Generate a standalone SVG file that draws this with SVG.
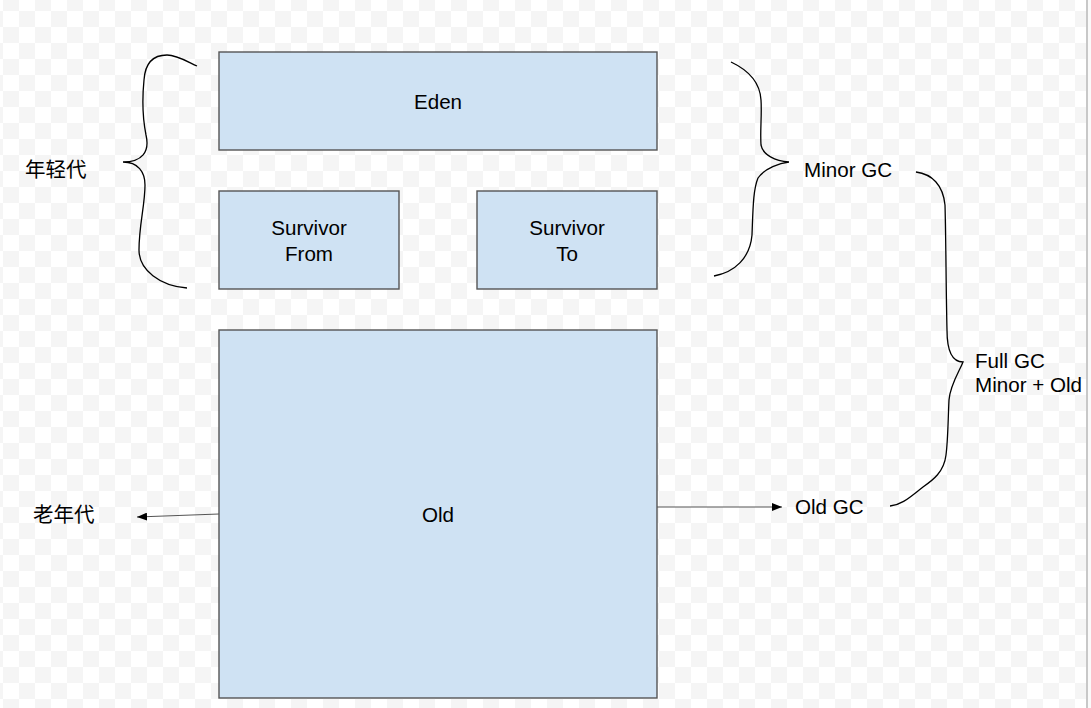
<svg xmlns="http://www.w3.org/2000/svg" width="1091" height="708" viewBox="0 0 1091 708">
<defs>
<pattern id="chk" x="3" y="11" width="32" height="32" patternUnits="userSpaceOnUse">
<rect x="0" y="0" width="32" height="32" fill="#ffffff"/>
<rect x="16" y="0" width="16" height="16" fill="#f5f5f5"/>
<rect x="0" y="16" width="16" height="16" fill="#f5f5f5"/>
</pattern>
<marker id="arr" viewBox="0 0 10 8" refX="10" refY="4" markerWidth="10" markerHeight="8" markerUnits="userSpaceOnUse" orient="auto">
<path d="M0,0 L10,4 L0,8 Z" fill="#000"/>
</marker>
<style>
.box{fill:#cfe2f3;stroke:#555;stroke-width:1.4}
.t{font-family:"Liberation Sans",Arial,sans-serif;font-size:20.6px;fill:#000}
.c{text-anchor:middle}
.cjk{font-family:"Noto Sans CJK SC","Liberation Sans",sans-serif;font-size:20.5px;fill:#000}
.brace{fill:none;stroke:#000;stroke-width:1.3}
.edge{fill:none;stroke:#555;stroke-width:1.2}
</style>
</defs>
<rect width="1091" height="708" fill="url(#chk)"/>
<rect x="1086" y="0" width="2" height="708" fill="#c8c8c8"/>
<rect x="1088" y="0" width="3" height="708" fill="#fafafa"/>

<g id="eden">
<rect class="box" x="219" y="52" width="438" height="98"/>
<text class="t c" x="438" y="109">Eden</text>
</g>
<g id="survivor-from">
<rect class="box" x="219" y="191" width="180" height="98"/>
<text class="t c" x="309" y="235">Survivor</text>
<text class="t c" x="309" y="261">From</text>
</g>
<g id="survivor-to">
<rect class="box" x="477" y="191" width="180" height="98"/>
<text class="t c" x="567" y="235">Survivor</text>
<text class="t c" x="567" y="261">To</text>
</g>
<g id="old">
<rect class="box" x="219" y="330" width="438" height="368"/>
<text class="t c" x="438" y="522">Old</text>
</g>

<g id="young-label">
<path class="brace" d="M197,66 C188,62 177,55 167,55 C152,55 145,65 144,80 C142,100 143,120 146,135 C150,152 142,162 123,162 M123,162 C138,162 145,172 145,185 C145,205 139,225 139,250 C139,270 160,286 187,288"/>
<text class="cjk" x="25" y="177">年轻代</text>
</g>
<g id="minor-gc">
<path class="brace" d="M731,62 C748,70 760,82 761,100 C762,115 760,130 761,145 C763,155 775,161 789,162 M789,162 C780,163 765,168 758,178 C753,190 753,210 752,235 C750,258 735,272 714,276"/>
<text class="t" x="804" y="177">Minor GC</text>
</g>
<g id="full-gc">
<path class="brace" d="M916,172 C932,174 943,185 945,205 C946,240 946,290 947,330 C947,350 952,362 963,362 C960,370 950,385 949,400 C948,420 948,440 946,455 C944,472 933,480 923,487 C910,497 902,505 890,506"/>
<text class="t" x="975" y="368">Full GC</text>
<text class="t" x="975" y="392">Minor + Old</text>
</g>
<g id="old-label">
<text class="cjk" x="33" y="522">老年代</text>
</g>
<g id="old-gc">
<text class="t" x="795" y="514">Old GC</text>
</g>

<g id="connectors">
<path class="edge" d="M219,514 L137,517" marker-end="url(#arr)"/>
<path class="edge" d="M657,507 L782,507" marker-end="url(#arr)"/>
</g>
</svg>
